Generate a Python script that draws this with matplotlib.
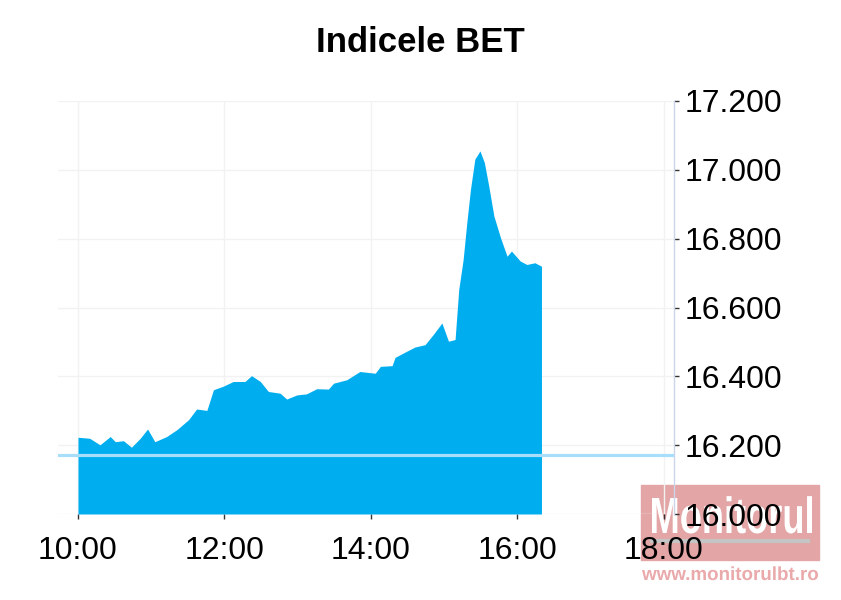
import numpy as np
import matplotlib.pyplot as plt
from matplotlib.ticker import FuncFormatter, MultipleLocator
from matplotlib.patches import Rectangle, PathPatch
from matplotlib.textpath import TextPath
from matplotlib.font_manager import FontProperties
from matplotlib.transforms import Affine2D

plt.rcParams['font.family'] = ['Liberation Sans', 'DejaVu Sans']

# intraday BET values (time in hours)
hours = [10.00, 10.16, 10.30, 10.44, 10.51, 10.62, 10.73, 10.85, 10.95, 11.05,
         11.21, 11.35, 11.51, 11.62, 11.76, 11.85, 11.98, 12.12, 12.28, 12.37,
         12.49, 12.60, 12.76, 12.85, 12.99, 13.12, 13.26, 13.42, 13.49, 13.67,
         13.85, 14.06, 14.13, 14.29, 14.33, 14.49, 14.60, 14.74, 14.85, 14.97,
         15.06, 15.15, 15.20, 15.26, 15.31, 15.36, 15.42, 15.49, 15.55, 15.61,
         15.68, 15.77, 15.86, 15.92, 16.04, 16.13, 16.24, 16.33]
bet = [16223, 16220, 16201, 16225, 16210, 16213, 16194, 16220, 16247, 16210,
       16225, 16245, 16274, 16305, 16301, 16361, 16371, 16385, 16385, 16402,
       16385, 16356, 16351, 16334, 16346, 16349, 16364, 16363, 16380, 16390,
       16414, 16409, 16429, 16431, 16455, 16473, 16485, 16492, 16521, 16555,
       16502, 16507, 16652, 16739, 16846, 16943, 17031, 17055, 17021, 16953,
       16866, 16803, 16749, 16764, 16735, 16725, 16730, 16720]
prev_close = 16172

x_ticks = [10, 12, 14, 16, 18]
x_labels = ['10:00', '12:00', '14:00', '16:00', '18:00']

fig = plt.figure(figsize=(8.41, 6), dpi=100)
ax = fig.add_axes([58/841, 1-514/600, (674-58)/841, (514-101)/600])
ax.patch.set_alpha(0)

ax.fill_between(hours, bet, 16000, color='#00aeef', lw=0, zorder=2)
ax.axhline(prev_close, color='#a8defa', lw=2.3, zorder=3)

ax.set_xlim(9.727, 18.14)
ax.set_ylim(16000, 17200)
ax.set_xticks(x_ticks)
ax.set_xticklabels(x_labels)
ax.yaxis.set_major_locator(MultipleLocator(200))
ax.yaxis.set_major_formatter(FuncFormatter(lambda v, p: f'{v:,.0f}'.replace(',', '.')))
ax.yaxis.tick_right()

ax.grid(color='#f2f2f2', lw=1)
ax.set_axisbelow(True)
for s in ['top', 'left', 'bottom']:
    ax.spines[s].set_visible(False)
ax.spines['right'].set_color('#ccd6eb')
ax.spines['right'].set_linewidth(1)

ax.tick_params(axis='x', length=3.6, width=1, color='#333333', labelsize=23, pad=12)
ax.tick_params(axis='y', length=3.6, width=1, color='#333333', labelsize=23, pad=4)

fig.text(0.5, 1-42/600, 'Indicele BET', ha='center', va='center',
         fontsize=25, fontweight='bold')


# watermark: condensed text drawn as paths, fitted into a pixel box
def box_text(s, x0, x1, ybase, ytop, color, z):
    prop = FontProperties(family='Liberation Sans', weight='bold')
    tp = TextPath((0, 0), s, size=1, prop=prop)
    cap = TextPath((0, 0), 'M', size=1, prop=prop).get_extents()
    ext = tp.get_extents()
    sx = (x1 - x0) / ext.width
    sy = (ybase - ytop) / cap.height
    tr = (Affine2D().translate(-ext.x0, 0).scale(sx / 100, sy / 100)
          .translate(x0 / 100, (600 - ybase) / 100) + fig.dpi_scale_trans)
    fig.patches.append(PathPatch(tp, transform=tr, color=color, lw=0, zorder=z))


fig.patches.append(Rectangle((641/841, 1-560/600), 178/841, 75/600,
                             transform=fig.transFigure, color='#e3a5a5',
                             zorder=-2))
fig.lines.append(plt.Line2D([652/841, 808/841], [1-541/600, 1-541/600],
                            transform=fig.transFigure, color='#c4c4c4',
                            lw=3, zorder=-1))
box_text('Monitorul', 652, 812, 533, 498, 'white', -1)
box_text('www.monitorulbt.ro', 642, 818, 580, 567, '#eaa9ab', 1)

fig.savefig('out.png', dpi=100)
